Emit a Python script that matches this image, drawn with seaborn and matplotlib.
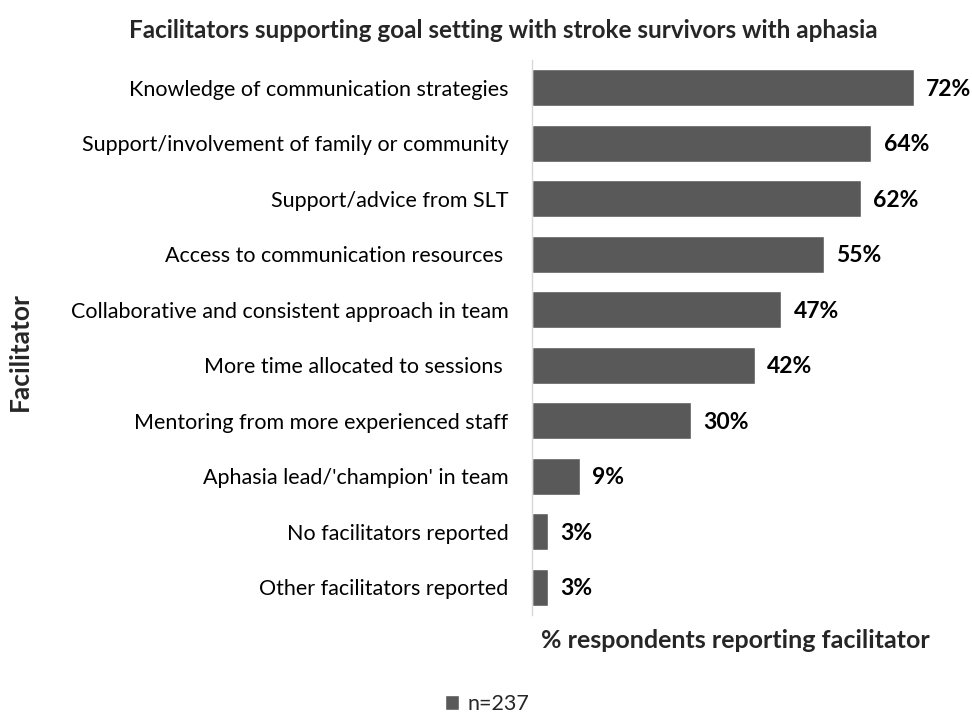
import matplotlib
matplotlib.use("Agg")
import matplotlib.pyplot as plt
import seaborn as sns
import pandas as pd
from matplotlib.patches import Patch

categories = [
    "Knowledge of communication strategies",
    "Support/involvement of family or community",
    "Support/advice from SLT",
    "Access to communication resources ",
    "Collaborative and consistent approach in team",
    "More time allocated to sessions ",
    "Mentoring from more experienced staff",
    "Aphasia lead/'champion' in team",
    "No facilitators reported",
    "Other facilitators reported",
]
values = [72, 64, 62, 55, 47, 42, 30, 9, 3, 3]
series_name = "n=237"

df = pd.DataFrame({"Facilitator": categories, "pct": values})

sns.set_theme(style="white")
plt.rcParams["font.family"] = ["Lato", "DejaVu Sans"]

fig = plt.figure(figsize=(9.72, 7.14), dpi=100)
ax = fig.add_axes([532 / 972, 1 - 615 / 714, (956 - 532) / 972, (615 - 60) / 714])

color = "#595959"
sns.barplot(data=df, x="pct", y="Facilitator", color=color, width=0.67,
            orient="h", ax=ax, saturation=1)

ax.set_xlim(0, 80)
ax.set_xticks([])
for s in ["top", "right", "bottom"]:
    ax.spines[s].set_visible(False)
ax.spines["left"].set_color("#d9d9d9")
ax.spines["left"].set_linewidth(1.0)
ax.tick_params(axis="y", length=0, pad=17, labelsize=15.5, labelcolor="#000000")

for i, v in enumerate(values):
    ax.text(v + 2.4, i + 0.03, f"{v}%", va="center", ha="left", fontsize=16.5,
            fontweight="bold", color="black")

ax.set_ylabel("")
ax.set_xlabel("")
fig.text(735 / 972, 1 - 640 / 714, "% respondents reporting facilitator",
         ha="center", va="center", fontsize=18, fontweight="bold")
fig.text(20 / 972, 1 - 352 / 714, "Facilitator", rotation=90, ha="center",
         va="center", fontsize=19, fontweight="bold")
fig.text(503 / 972, 1 - 30 / 714,
         "Facilitators supporting goal setting with stroke survivors with aphasia",
         ha="center", va="center", fontsize=17.5, fontweight="bold")

fig.legend(handles=[Patch(facecolor=color, label=series_name)],
           loc="center", bbox_to_anchor=(487 / 972, 1 - 704 / 714),
           frameon=False, fontsize=15.5, handlelength=0.65, handleheight=0.65,
           handletextpad=0.4)

fig.savefig("out.png", dpi=100, facecolor="white")
